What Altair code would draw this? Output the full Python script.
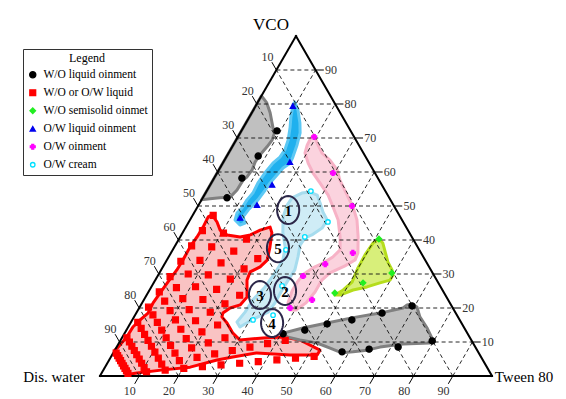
import math
import altair as alt
import pandas as pd

# ---------------- data (ternary %, Water = 100 - VCO - Tween) ----------------
tick_values = [10, 20, 30, 40, 50, 60, 70, 80, 90]

# phase regions, traced as (VCO, Tween) vertices
gray_top_vco = [82.4, 80.3, 77.4, 74.7, 72.9, 71.8, 69.4, 67.4, 65.0, 62.9, 60.6, 58.5, 57.6, 54.7, 52.6, 52.4, 52.1, 51.8]
gray_top_tw = [0.0, 2.4, 4.7, 6.5, 7.7, 8.7, 9.2, 8.9, 8.3, 8.1, 8.5, 8.2, 7.7, 7.6, 6.9, 4.4, 2.0, 0.0]

blue_vco = [80.6, 78.2, 74.4, 71.5, 67.9, 64.4, 62.6, 61.2, 59.1, 56.8, 54.7, 51.8, 50.3, 48.8, 46.8, 45.0, 44.4, 45.9, 47.9, 49.4, 51.8, 53.8, 56.8, 59.7, 62.6, 64.4, 66.5, 69.4, 73.2, 76.2, 79.7]
blue_tw = [9.4, 11.4, 13.8, 15.3, 16.3, 17.0, 17.2, 16.1, 15.6, 15.0, 14.8, 14.4, 13.9, 13.4, 13.1, 14.5, 13.5, 11.5, 11.0, 11.5, 11.6, 12.1, 11.9, 12.2, 12.8, 13.7, 13.9, 13.3, 11.9, 10.6, 9.4]

pink_vco = [70.9, 67.9, 65.6, 63.5, 60.6, 57.6, 52.6, 49.7, 45.9, 40.9, 36.2, 34.1, 32.4, 30.3, 28.2, 24.7, 21.5, 19.4, 19.4, 21.5, 25.0, 27.6, 30.0, 31.8, 33.2, 35.0, 37.1, 40.9, 45.9, 49.7, 53.2, 56.8, 59.7, 62.6, 65.6, 67.9, 69.7]
pink_tw = [19.1, 21.7, 23.8, 26.9, 30.2, 32.4, 37.0, 39.7, 42.6, 45.4, 47.7, 48.0, 46.3, 43.5, 42.5, 42.5, 41.8, 40.3, 38.8, 37.2, 36.5, 36.5, 37.0, 38.4, 40.3, 41.9, 42.7, 40.8, 37.8, 34.6, 31.6, 27.7, 24.5, 21.8, 19.5, 18.9, 18.8]

cyan_vco = [54.1, 53.2, 50.9, 48.2, 45.9, 43.5, 41.5, 40.6, 38.5, 35.0, 31.2, 28.2, 25.3, 21.5, 18.8, 17.4, 15.9, 14.4, 15.9, 18.8, 22.4, 26.2, 30.3, 34.1, 37.9, 42.1, 46.8, 50.3, 52.4, 53.8]
cyan_tw = [26.5, 28.8, 30.7, 32.8, 35.0, 34.9, 33.3, 32.0, 31.8, 33.0, 34.1, 33.9, 33.8, 33.9, 33.5, 31.6, 29.9, 28.5, 27.0, 27.6, 27.8, 29.0, 29.5, 29.6, 28.3, 25.6, 23.3, 22.6, 22.8, 24.6]

green_vco = [40.3, 39.1, 36.5, 33.5, 31.2, 29.7, 28.2, 27.4, 26.2, 25.3, 23.8, 23.8, 25.3, 27.6, 31.8, 35.6, 39.1]
green_tw = [51.0, 52.6, 54.5, 56.7, 58.9, 59.9, 59.9, 57.7, 55.0, 51.9, 49.3, 48.0, 49.4, 50.5, 49.9, 49.8, 50.1]

gray_bot_vco = [21.2, 20.3, 17.4, 14.1, 10.6, 9.7, 9.4, 8.5, 7.6, 7.1, 6.8, 8.2, 9.7, 10.6, 11.5, 12.6, 14.1, 15.6, 17.1, 18.5, 20.0, 20.9]
gray_bot_tw = [69.0, 70.7, 72.9, 76.4, 79.6, 79.3, 72.6, 67.2, 64.3, 61.0, 58.3, 54.6, 50.5, 45.7, 42.0, 40.4, 44.7, 50.1, 55.7, 62.2, 67.3, 67.9]

red_vco = [47.4, 45.3, 42.9, 41.5, 40.9, 41.5, 42.9, 43.8, 42.1, 37.9, 34.1, 32.1, 30.6, 28.2, 23.2, 20.9, 20.0, 18.5, 17.4, 15.6, 12.6, 10.6, 11.2, 11.5, 10.6, 7.6, 6.2, 6.2, 6.8, 5.6, 4.7, 2.6, 1.8, 0.9, 0.6, 7.6, 8.5, 11.5, 14.4, 16.5, 18.5, 21.5, 24.4, 27.6, 31.2, 34.1, 37.9, 40.9, 43.8, 46.8]
red_tw = [4.9, 7.2, 9.2, 11.7, 15.3, 17.6, 19.4, 21.5, 22.8, 24.4, 25.6, 24.8, 23.0, 23.4, 25.9, 25.3, 23.2, 22.1, 22.4, 24.6, 27.6, 30.4, 36.0, 41.0, 45.7, 52.3, 52.3, 45.4, 36.6, 31.1, 27.5, 21.7, 15.2, 9.0, 7.4, 0.0, 0.4, 1.1, 1.2, 2.0, 3.0, 2.8, 3.1, 3.5, 4.0, 4.1, 4.0, 4.3, 4.4, 4.2]

# observed formulations
black_vco = [72.1, 64.7, 58.2, 52.4, 20.6, 18.5, 16.5, 15.3, 13.5, 12.4, 10.3, 8.5, 7.9, 7.1]
black_tw = [9.1, 8.0, 7.1, 6.2, 69.3, 62.7, 56.0, 50.3, 45.5, 40.5, 79.6, 71.8, 64.7, 58.2]
green_pt_vco = [40.3, 30.3, 27.4, 24.4]
green_pt_tw = [51.0, 59.3, 53.4, 47.7]
blue_pt_vco = [79.4, 62.9, 56.2, 50.3, 46.5]
blue_pt_tw = [9.5, 17.0, 15.8, 14.9, 12.5]
magenta_vco = [70.3, 59.7, 50.0, 36.2, 32.9, 29.4, 22.4, 20.0]
magenta_tw = [19.5, 29.6, 39.3, 46.4, 41.0, 37.1, 42.9, 38.5]
cyan_pt_vco = [54.4, 45.3, 40.9, 37.1, 26.5, 17.9, 16.5]
cyan_pt_tw = [26.6, 35.5, 31.8, 28.9, 33.2, 35.2, 30.8]

# red (liquid) formulations: dilution lines given by the Tween share of (VCO + Tween),
# with the water levels found on each line
red_ray_fraction = [0.1, 0.2, 0.3, 0.4, 0.5, 0.6, 0.7, 0.8, 0.9]
red_ray_water = [
    [92.5, 87.5, 82.5, 77.5, 72.5, 67.5, 62.5, 57.5, 52.5, 47.5],
    [92.5, 87.5, 82.5, 77.5, 72.5, 67.5, 62.5, 57.5, 52.5, 47.5],
    [92.5, 87.5, 82.5, 77.5, 72.5, 67.5, 62.5, 57.5, 52.5, 47.5, 42.5],
    [92.5, 87.5, 82.5, 77.5, 72.5, 67.5, 62.5, 57.5, 52.5, 47.5, 42.5],
    [92.5, 87.5, 82.5, 77.5, 72.5, 67.5, 62.5, 57.5, 52.5],
    [92.5, 87.5, 82.5, 77.5, 72.5, 67.5, 62.5],
    [92.5, 87.5, 82.5, 77.5, 72.5, 67.5, 62.5],
    [92.5, 87.5, 82.5, 77.5, 72.5, 67.5, 62.5, 57.5, 52.5, 47.5],
    [92.5, 87.5, 82.5, 77.5, 72.5, 67.5, 62.5, 57.5, 52.5, 47.5, 42.5],
]

# numbered formulations
num_labels = ["1", "5", "2", "3", "4"]
num_vco = [48.8, 37.6, 25.0, 23.8, 15.6]
num_tw = [23.6, 26.6, 34.7, 28.9, 36.1]

legend_names = ["W/O liquid oinment", "W/O or O/W liquid", "W/O semisolid oinmet",
                "O/W liquid oinment", "O/W oinment", "O/W cream"]

# ---------------- helpers ----------------
def to_xy(v, t):
    return t + v / 2.0, v

XS = alt.Scale(domain=[0, 100], nice=False, zero=False)
YS = alt.Scale(domain=[0, 100], nice=False, zero=False)
FONT = "Liberation Serif"

def poly_layer(vco, tw, fill, stroke):
    rows = []
    for i, (v, t) in enumerate(zip(vco, tw)):
        x, y = to_xy(v, t)
        rows.append({"x": x, "y": y, "o": i})
    return alt.Chart(pd.DataFrame(rows)).mark_line(
        interpolate="linear-closed", fill=fill, stroke=stroke, strokeWidth=3,
        strokeJoin="round"
    ).encode(
        x=alt.X("x:Q", scale=XS, axis=None),
        y=alt.Y("y:Q", scale=YS, axis=None),
        order="o:Q",
    )

regions = [
    poly_layer(gray_top_vco, gray_top_tw, "#c0c0c0", "#808080"),
    poly_layer(blue_vco, blue_tw, "#1fb0ee", "#5cc8f4"),
    poly_layer(pink_vco, pink_tw, "#fbd3de", "#f7b2c6"),
    poly_layer(cyan_vco, cyan_tw, "#cfecf6", "#a6dcee"),
    poly_layer(green_vco, green_tw, "#d8ef7a", "#b5dd1c"),
    poly_layer(red_vco, red_tw, "#f9c3c3", "#ff0000"),
    poly_layer(gray_bot_vco, gray_bot_tw, "#c0c0c0", "#808080"),
]

# grid lines
grid_rows = []
for k in tick_values:
    for (v1, t1), (v2, t2) in [((k, 0), (k, 100 - k)),          # VCO = k
                               ((0, k), (100 - k, k)),          # Tween = k
                               ((0, 100 - k), (100 - k, 0))]:   # Water = k
        x1, y1 = to_xy(v1, t1)
        x2, y2 = to_xy(v2, t2)
        grid_rows.append({"x": x1, "y": y1, "x2": x2, "y2": y2})
grid = alt.Chart(pd.DataFrame(grid_rows)).mark_rule(
    strokeDash=[4, 3], color="#111", strokeWidth=0.9
).encode(x=alt.X("x:Q", scale=XS, axis=None), y=alt.Y("y:Q", scale=YS, axis=None),
         x2="x2:Q", y2="y2:Q")

# triangle edges
corners = [(0, 0), (0, 100), (100, 0)]  # water, tween, VCO corners as (VCO, Tween)
edge_rows = []
for i in range(3):
    x1, y1 = to_xy(*corners[i])
    x2, y2 = to_xy(*corners[(i + 1) % 3])
    edge_rows.append({"x": x1, "y": y1, "x2": x2, "y2": y2})
edges = alt.Chart(pd.DataFrame(edge_rows)).mark_rule(
    color="black", strokeWidth=2, strokeCap="square"
).encode(x=alt.X("x:Q", scale=XS, axis=None), y=alt.Y("y:Q", scale=YS, axis=None),
         x2="x2:Q", y2="y2:Q")

# axis ticks and labels
tick_rows, lab_rows = [], []
for k in tick_values:
    # right axis: VCO
    x, y = to_xy(k, 100 - k)
    tick_rows.append({"x": x, "y": y, "x2": x + 2.1, "y2": y})
    lab_rows.append({"x": x + 2.4, "y": y, "t": str(k), "side": "right"})
    # left axis: water
    x, y = to_xy(100 - k, 0)
    tick_rows.append({"x": x, "y": y, "x2": x - 1.15, "y2": y + 2.3})
    lab_rows.append({"x": x - 2.3, "y": y + 3.9, "t": str(k), "side": "left"})
    # bottom axis: Tween
    x, y = to_xy(0, k)
    tick_rows.append({"x": x, "y": y, "x2": x - 1.15, "y2": y - 2.3})
    lab_rows.append({"x": x - 2.4, "y": y - 4.4, "t": str(k), "side": "bottom"})
ticks = alt.Chart(pd.DataFrame(tick_rows)).mark_rule(color="black", strokeWidth=1).encode(
    x=alt.X("x:Q", scale=XS, axis=None), y=alt.Y("y:Q", scale=YS, axis=None),
    x2="x2:Q", y2="y2:Q")
lab_df = pd.DataFrame(lab_rows)
tick_labels_right = alt.Chart(lab_df[lab_df.side == "right"]).mark_text(
    align="left", baseline="middle", font=FONT, fontSize=12, color="#333"
).encode(x=alt.X("x:Q", scale=XS, axis=None), y=alt.Y("y:Q", scale=YS, axis=None), text="t:N")
tick_labels_other = alt.Chart(lab_df[lab_df.side != "right"]).mark_text(
    align="center", baseline="middle", font=FONT, fontSize=12, color="#333"
).encode(x=alt.X("x:Q", scale=XS, axis=None), y=alt.Y("y:Q", scale=YS, axis=None), text="t:N")

# markers
pt_rows = []
def add_pts(vco, tw, name):
    for v, t in zip(vco, tw):
        x, y = to_xy(v, t)
        pt_rows.append({"x": x, "y": y, "type": name})

for f, waters in zip(red_ray_fraction, red_ray_water):
    for w in waters:
        s = 100 - w
        add_pts([s * (1 - f)], [s * f], legend_names[1])
add_pts(black_vco, black_tw, legend_names[0])
add_pts(green_pt_vco, green_pt_tw, legend_names[2])
add_pts(blue_pt_vco, blue_pt_tw, legend_names[3])
add_pts(magenta_vco, magenta_tw, legend_names[4])
add_pts(cyan_pt_vco, cyan_pt_tw, legend_names[5])

leg = alt.Legend(
    orient="none", legendX=-77, legendY=13, title="Legend",
    titleFont=FONT, titleFontSize=12, titleFontWeight="normal", titleColor="black",
    titleAnchor="middle", titlePadding=4,
    labelFont=FONT, labelFontSize=11.5, labelColor="black", labelOffset=5,
    symbolStrokeWidth=1.3, rowPadding=5,
    strokeColor="#333", fillColor="white", padding=4,
)
shape_scale = alt.Scale(domain=legend_names,
                        range=["circle", "square", "diamond", "triangle-up", "cross", "circle"])
fill_scale = alt.Scale(domain=legend_names,
                       range=["#000000", "#ff0000", "#22ee22", "#0000ee", "#ff00ff", "white"])
stroke_scale = alt.Scale(domain=legend_names,
                         range=["#000000", "#ff0000", "#22ee22", "#0000ee", "#ff00ff", "#00e0ff"])
size_scale = alt.Scale(domain=legend_names, range=[38, 20, 30, 30, 34, 30])
points = alt.Chart(pd.DataFrame(pt_rows)).mark_point(strokeWidth=1.3, opacity=1).encode(
    x=alt.X("x:Q", scale=XS, axis=None), y=alt.Y("y:Q", scale=YS, axis=None),
    shape=alt.Shape("type:N", scale=shape_scale, legend=leg, title="Legend"),
    fill=alt.Fill("type:N", scale=fill_scale, legend=leg, title="Legend"),
    stroke=alt.Stroke("type:N", scale=stroke_scale, legend=leg, title="Legend"),
    size=alt.Size("type:N", scale=size_scale, legend=leg, title="Legend"),
)

# numbered ellipses
ell = "M " + " L ".join(
    f"{0.79 * math.cos(a * math.pi / 18):.3f} {math.sin(a * math.pi / 18):.3f}" for a in range(36)
) + " Z"
num_rows = []
for lab, v, t in zip(num_labels, num_vco, num_tw):
    x, y = to_xy(v, t)
    num_rows.append({"x": x, "y": y, "t": lab})
num_df = pd.DataFrame(num_rows)
ellipses = alt.Chart(num_df).mark_point(
    shape=ell, size=784, stroke="#2b2648", strokeWidth=2, filled=False, opacity=1
).encode(x=alt.X("x:Q", scale=XS, axis=None), y=alt.Y("y:Q", scale=YS, axis=None))
numbers = alt.Chart(num_df).mark_text(
    font=FONT, fontSize=15, fontWeight="bold", color="black", baseline="middle", dy=1
).encode(x=alt.X("x:Q", scale=XS, axis=None), y=alt.Y("y:Q", scale=YS, axis=None), text="t:N")

# corner titles and legend separator
one = pd.DataFrame({"a": [0]})
title_vco = alt.Chart(one).mark_text(text="VCO", font=FONT, fontSize=17, color="black",
                                      baseline="middle").encode(x=alt.value(171), y=alt.value(-11))
title_water = alt.Chart(one).mark_text(text="Dis. water", font=FONT, fontSize=15, color="black",
                                        baseline="middle").encode(x=alt.value(-46), y=alt.value(341))
title_tween = alt.Chart(one).mark_text(text="Tween 80", font=FONT, fontSize=15, color="black",
                                        baseline="middle").encode(x=alt.value(424), y=alt.value(341))
sep = alt.Chart(one).mark_rule(color="#333", strokeWidth=1).encode(
    x=alt.value(-77), x2=alt.value(53), y=alt.value(29))

chart = alt.layer(
    *regions, grid, edges, ticks, tick_labels_right, tick_labels_other,
    points, ellipses, numbers, title_vco, title_water, title_tween, sep
).properties(
    width=392, height=340,
    autosize=alt.AutoSizeParams(type="none"),
    padding={"left": 92, "top": 28, "right": 64, "bottom": 26},
).configure_view(stroke=None)

chart.save("out.html", embed_options={"renderer": "svg", "actions": False})
